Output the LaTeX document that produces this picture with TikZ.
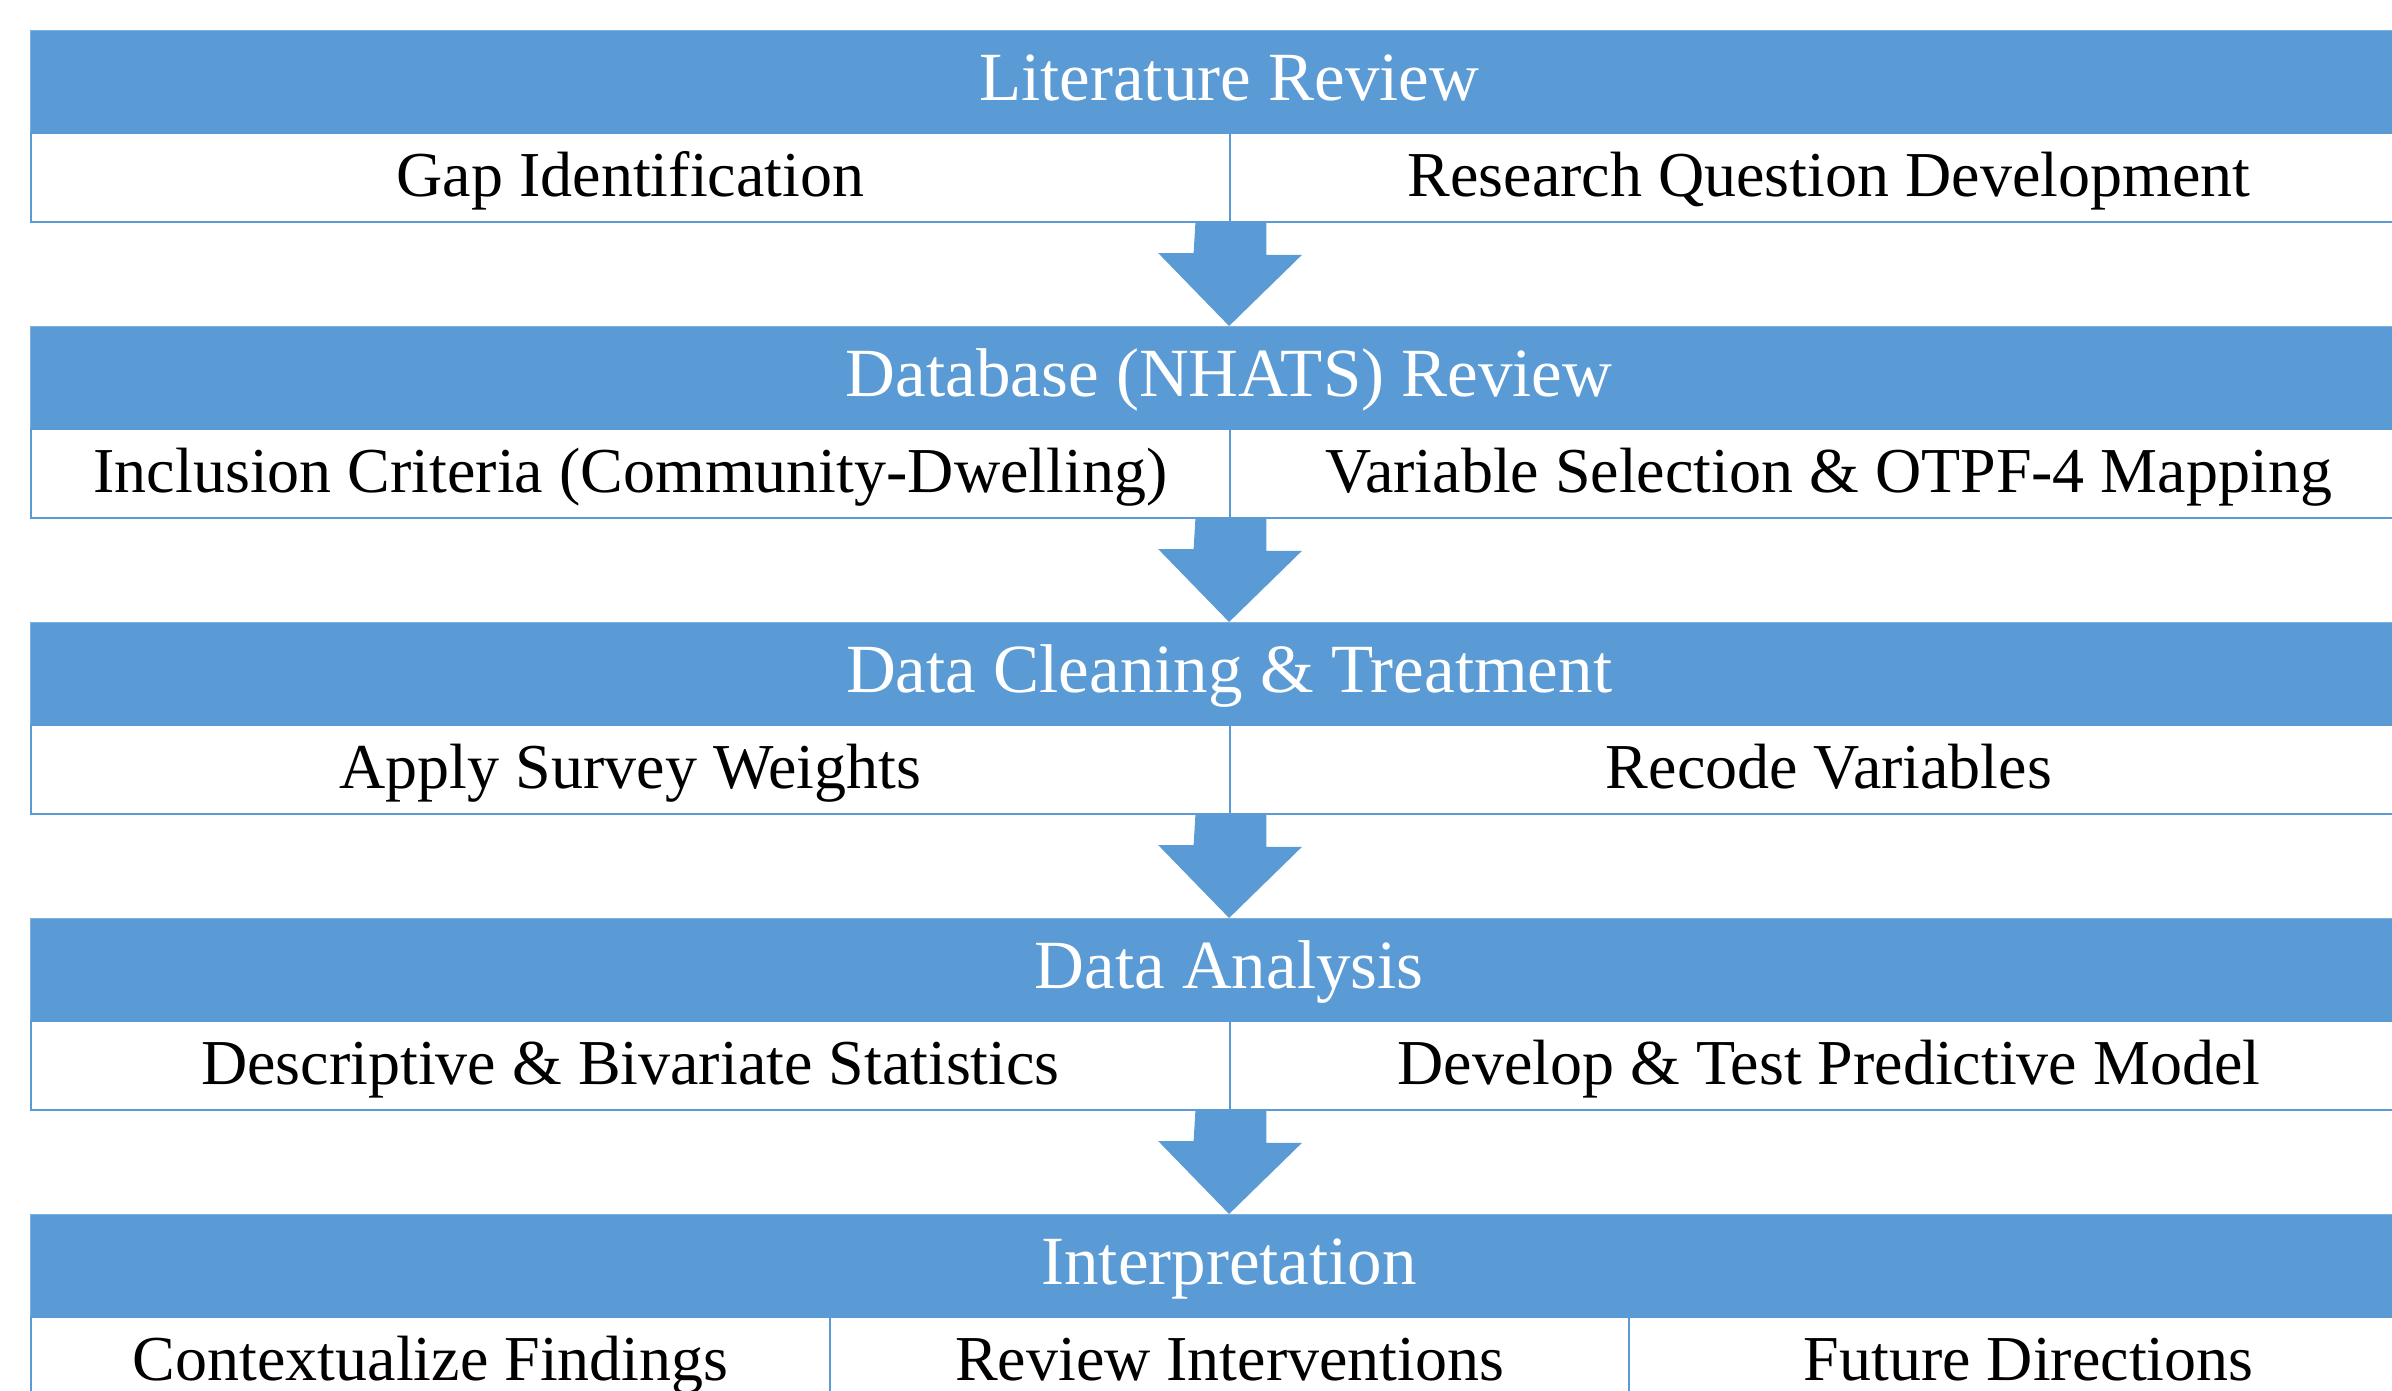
\documentclass[tikz,border=0pt]{standalone}
\usepackage{fontspec}
\setmainfont{Liberation Serif}
\usetikzlibrary{calc}
\definecolor{barblue}{HTML}{5B9BD5}
\definecolor{edgeblue}{HTML}{7EAEDD}
\tikzset{
  header/.style={anchor=north west, inner sep=0pt, fill=barblue, draw=edgeblue,
    line width=1.2pt, minimum width=2397pt, minimum height=102pt,
    text height=70pt, text depth=32pt, text=white,
    font=\fontsize{69pt}{80pt}\selectfont},
  cell/.style={anchor=north west, inner sep=0pt, fill=white, draw=barblue,
    line width=2.4pt, minimum height=88.5pt,
    text height=63pt, text depth=25.5pt, text=black,
    font=\fontsize{64pt}{74pt}\selectfont},
  half/.style={cell, minimum width=1198.5pt},
  third/.style={cell, minimum width=799pt},
  blockarrow/.style={fill=barblue, draw=none}
}
\newcommand{\flowarrow}[2]{%
  \fill[blockarrow] ($(#1.south east)+(-35.5,0)$) -- ++(71,0) -- ++(0,32)
    -- ++(35.5,0) -- (#2.north) -- ++(-71,-73) -- ++(35.5,0) -- cycle;}
\begin{document}
\begin{tikzpicture}[x=1pt,y=-1pt]
\useasboundingbox (0,0) rectangle (2392,1390);
\clip (0,0) rectangle (2392,1390);

% Stage 1
\node[header] (h1) at (30,30) {Literature Review};
\node[half] (a1) at (30,132) {Gap Identification};
\node[half] (b1) at (1228.5,132) {Research Question Development};

% Stage 2
\node[header] (h2) at (30,326) {Database (NHATS) Review};
\node[half] (a2) at (30,428) {Inclusion Criteria (Community-Dwelling)};
\node[half] (b2) at (1228.5,428) {Variable Selection \& OTPF-4 Mapping};

% Stage 3
\node[header] (h3) at (30,622) {Data Cleaning \& Treatment};
\node[half] (a3) at (30,724) {Apply Survey Weights};
\node[half] (b3) at (1228.5,724) {Recode Variables};

% Stage 4
\node[header] (h4) at (30,918) {Data Analysis};
\node[half] (a4) at (30,1020) {Descriptive \& Bivariate Statistics};
\node[half] (b4) at (1228.5,1020) {Develop \& Test Predictive Model};

% Stage 5
\node[header] (h5) at (30,1214) {Interpretation};
\node[third] (a5) at (30,1316) {Contextualize Findings};
\node[third] (b5) at (829,1316) {Review Interventions};
\node[third] (c5) at (1628,1316) {Future Directions};

% Block arrows between stages
\flowarrow{a1}{h2}
\flowarrow{a2}{h3}
\flowarrow{a3}{h4}
\flowarrow{a4}{h5}
\end{tikzpicture}
\end{document}
